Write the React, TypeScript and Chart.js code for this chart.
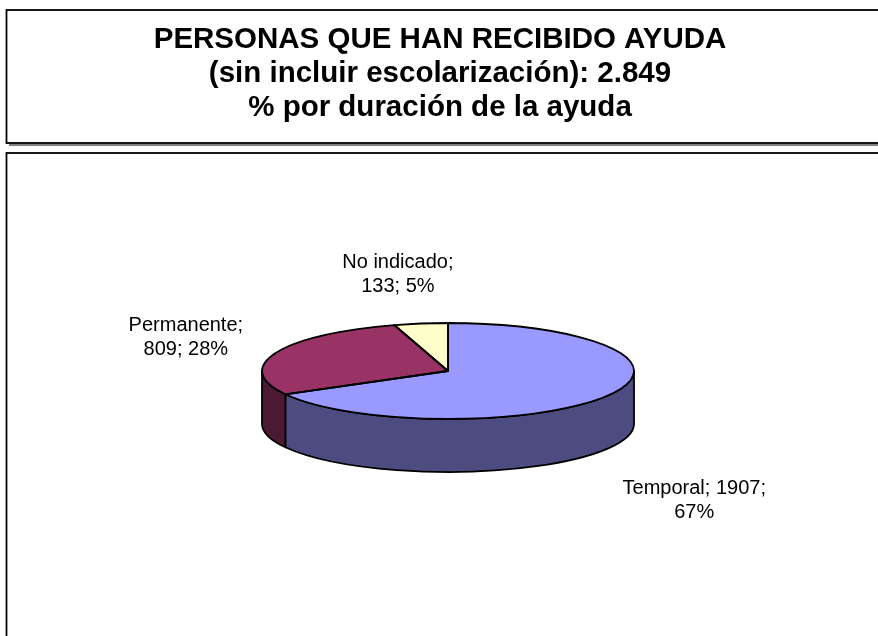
import React, { useEffect, useRef } from "react";
import { Chart, registerables } from "chart.js";

Chart.register(...registerables);

// ---- data ----
const categories = ["Temporal", "Permanente", "No indicado"];
const values = [1907, 809, 133];
const titleLine1 = "PERSONAS QUE HAN RECIBIDO AYUDA";
const titleLine2Prefix = "(sin incluir escolarización): ";
const titleLine3 = "% por duración de la ayuda";
const topColors = ["#9999FF", "#993366", "#FFFFCC"];
const sideColors = ["#4C4C80", "#4C1933", "#80806A"];

// ---- layout / style ----
const W = 878;
const H = 636;
const RADIUS = 186;
const TILT = 48 / 186;
const DEPTH = 53;
const FONT = "'Liberation Sans', Arial, Helvetica, sans-serif";
const TITLE_FONT_SIZE = 29.5;
const LABEL_FONT_SIZE = 20;
const LABEL_LINE_H = 24;
const LABEL_MAX_W = 152;
const LABEL_GAP = 20;
const OUTLINE_W = 1.8;
const LABEL_NUDGE = [
  [-3, 18],
  [-14, 16],
  [-20, -5],
];

const total = values.reduce((a, b) => a + b, 0);
const fmtThousands = (n: number) => String(n).replace(/\B(?=(\d{3})+(?!\d))/g, ".");

function wrapWords(ctx: CanvasRenderingContext2D, text: string, maxW: number) {
  const words = text.split(" ");
  const lines: string[] = [];
  let cur = "";
  for (const w of words) {
    const test = cur ? cur + " " + w : w;
    if (cur && ctx.measureText(test).width > maxW) {
      lines.push(cur);
      cur = w;
    } else cur = test;
  }
  if (cur) lines.push(cur);
  return lines;
}

const pie3dPlugin = {
  id: "pie3d",
  beforeDraw(chart: any) {
    const ctx: CanvasRenderingContext2D = chart.ctx;
    ctx.save();
    ctx.fillStyle = "#ffffff";
    ctx.fillRect(0, 0, W, H);
    // title box shadow
    ctx.fillStyle = "#808080";
    ctx.fillRect(9, 143.5, W, 2.5);
    // title box
    ctx.strokeStyle = "#000000";
    ctx.lineWidth = 1.8;
    ctx.strokeRect(6.5, 10, W + 10, 133);
    // plot box
    ctx.strokeRect(6.5, 153, W + 10, H + 10);
    // title text
    ctx.fillStyle = "#000000";
    ctx.font = `bold ${TITLE_FONT_SIZE}px ${FONT}`;
    ctx.textAlign = "center";
    ctx.textBaseline = "alphabetic";
    const tx = 440;
    ctx.fillText(titleLine1, tx, 48);
    ctx.fillText(titleLine2Prefix + fmtThousands(total), tx, 82);
    ctx.fillText(titleLine3, tx, 116);
    ctx.restore();
  },
  beforeDatasetsDraw(chart: any) {
    const ctx: CanvasRenderingContext2D = chart.ctx;
    const meta = chart.getDatasetMeta(0);
    const arcs = meta.data;
    if (!arcs.length) return;
    const cx = arcs[0].x;
    const cy = arcs[0].y;
    const rx = arcs[0].outerRadius;
    const ry = rx * TILT;
    // side walls (front half: canvas angles 0..PI)
    ctx.save();
    ctx.lineWidth = OUTLINE_W;
    ctx.lineJoin = "round";
    ctx.strokeStyle = "#000000";
    arcs.forEach((el: any, i: number) => {
      const a = Math.max(el.startAngle, 0);
      const b = Math.min(el.endAngle, Math.PI);
      if (b <= a) return;
      ctx.beginPath();
      ctx.ellipse(cx, cy, rx, ry, 0, a, b);
      ctx.lineTo(cx + rx * Math.cos(b), cy + ry * Math.sin(b) + DEPTH);
      ctx.ellipse(cx, cy + DEPTH, rx, ry, 0, b, a, true);
      ctx.closePath();
      ctx.fillStyle = sideColors[i];
      ctx.fill();
      ctx.stroke();
    });
    ctx.restore();
    // squash the library's arcs into an ellipse for the top face
    ctx.save();
    ctx.translate(cx, cy);
    ctx.scale(1, TILT);
    ctx.translate(-cx, -cy);
  },
  afterDatasetsDraw(chart: any) {
    const ctx: CanvasRenderingContext2D = chart.ctx;
    ctx.restore();
    const meta = chart.getDatasetMeta(0);
    const arcs = meta.data;
    if (!arcs.length) return;
    const cx = arcs[0].x;
    const cy = arcs[0].y;
    const rx = arcs[0].outerRadius;
    const ry = rx * TILT;
    ctx.save();
    ctx.lineWidth = OUTLINE_W;
    ctx.lineJoin = "round";
    ctx.strokeStyle = "#000000";
    arcs.forEach((el: any) => {
      ctx.beginPath();
      ctx.moveTo(cx, cy);
      ctx.ellipse(cx, cy, rx, ry, 0, el.startAngle, el.endAngle);
      ctx.closePath();
      ctx.stroke();
    });
    // data labels
    ctx.fillStyle = "#000000";
    ctx.font = `${LABEL_FONT_SIZE}px ${FONT}`;
    ctx.textAlign = "center";
    ctx.textBaseline = "middle";
    arcs.forEach((el: any, i: number) => {
      const mid = (el.startAngle + el.endAngle) / 2;
      const c = Math.cos(mid);
      const s = Math.sin(mid);
      const ax = cx + rx * c + LABEL_GAP * c;
      const ay = cy + ry * s + (s > 0 ? DEPTH : 0) + LABEL_GAP * s;
      const pct = Math.round((values[i] / total) * 100);
      const text = `${categories[i]}; ${values[i]}; ${pct}%`;
      const lines = wrapWords(ctx, text, LABEL_MAX_W);
      const bw = Math.max(...lines.map((l) => ctx.measureText(l).width));
      const bh = lines.length * LABEL_LINE_H;
      let bx = ax;
      if (c > 0.3) bx = ax + bw / 2;
      else if (c < -0.3) bx = ax - bw / 2;
      let by = ay;
      if (s > 0.3) by = ay + bh / 2;
      else if (s < -0.3) by = ay - bh / 2;
      bx += LABEL_NUDGE[i][0];
      by += LABEL_NUDGE[i][1];
      lines.forEach((l, j) => {
        ctx.fillText(l, bx, by - bh / 2 + LABEL_LINE_H * (j + 0.5));
      });
    });
    ctx.restore();
  },
};

export default function App() {
  const ref = useRef<HTMLCanvasElement>(null);
  useEffect(() => {
    if (!ref.current) return;
    const chart = new Chart(ref.current, {
      type: "pie",
      data: {
        labels: categories,
        datasets: [
          {
            data: values,
            backgroundColor: topColors,
            borderWidth: 0,
            radius: RADIUS,
            clip: false as any,
          },
        ],
      },
      options: {
        responsive: false,
        animation: false,
        events: [],
        devicePixelRatio: 1,
        layout: { padding: { left: 262, right: 244, top: 185, bottom: 79 } },
        plugins: {
          legend: { display: false },
          tooltip: { enabled: false },
          title: { display: false },
        },
      },
      plugins: [pie3dPlugin],
    });
    return () => chart.destroy();
  }, []);
  return (
    <div style={{ position: "absolute", left: 0, top: 0, width: W, height: H }}>
      <canvas ref={ref} width={W} height={H} style={{ display: "block" }} />
    </div>
  );
}
